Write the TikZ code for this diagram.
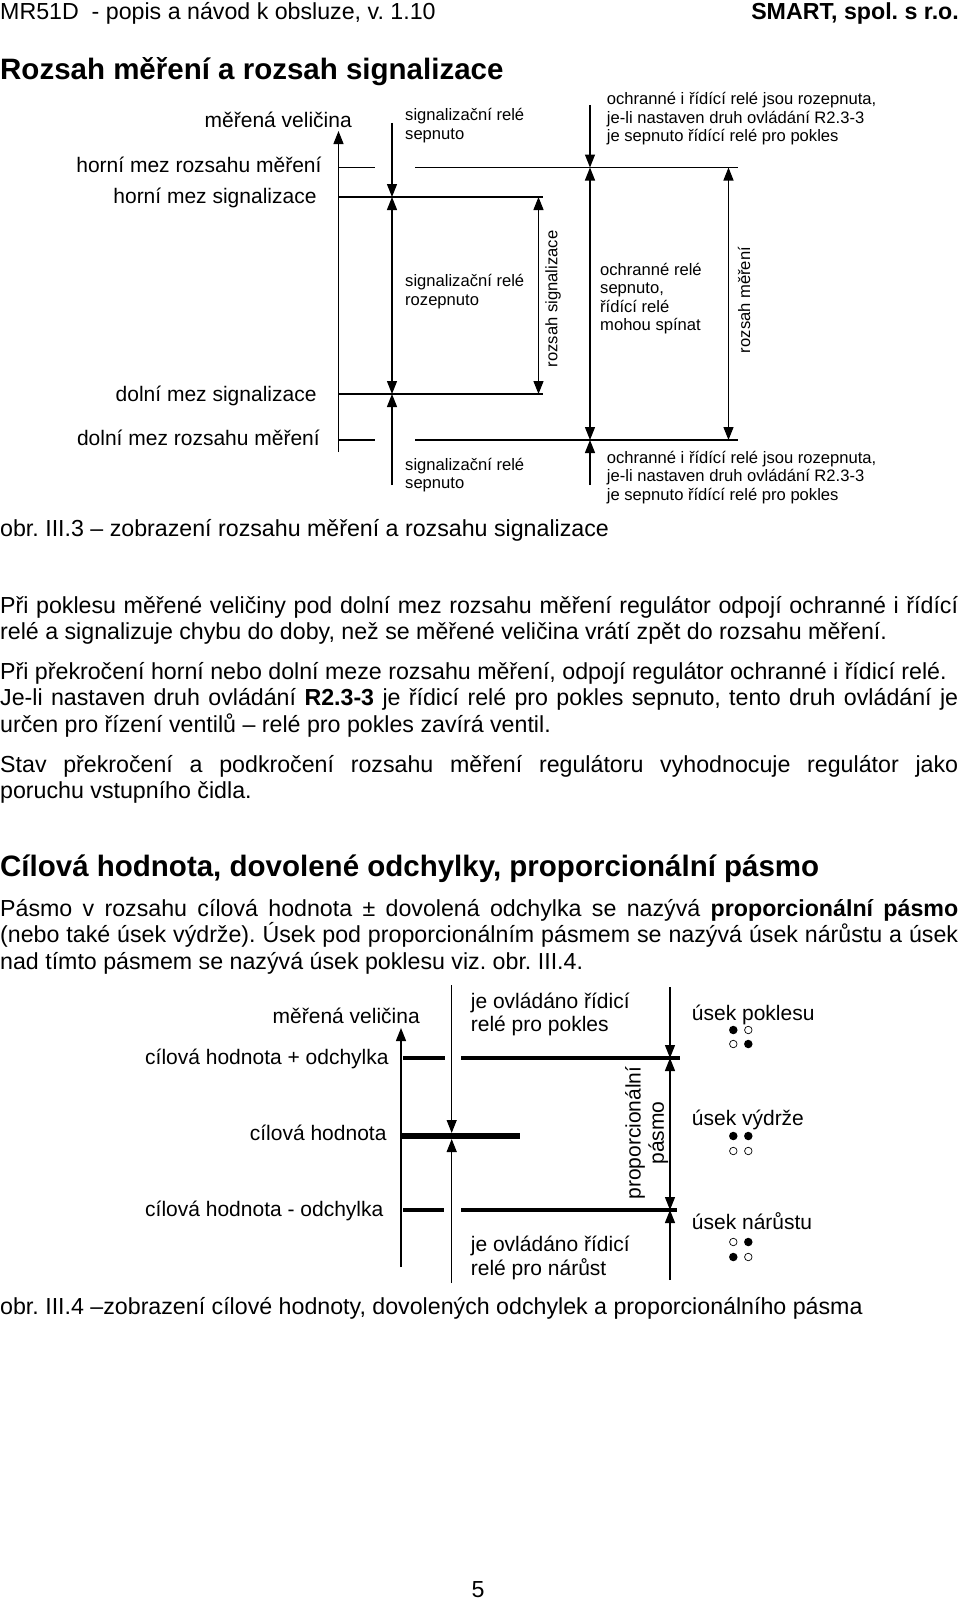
\documentclass[tikz,border=0pt]{standalone}
\usepackage{fontspec}
\setmainfont{Liberation Sans}
\usetikzlibrary{arrows.meta}
\frenchspacing
\tikzset{
  lbl/.style={inner sep=0pt, font=\fontsize{21}{23.4}\selectfont},
  sm/.style={inner sep=0pt, align=left, font=\fontsize{16.6}{18.5}\selectfont},
  body/.style={inner sep=0pt, align=left, font=\fontsize{23.2}{26.6}\selectfont},
  head/.style={inner sep=0pt, font=\fontsize{29.5}{34}\selectfont\bfseries},
  hdr/.style={inner sep=0pt, font=\fontsize{23.2}{26}\selectfont},
  lim/.style={line width=1.8pt},
  tipx/.style={line width=1.2pt, -{Triangle[length=13pt,width=10pt]}},
  dtip/.style={line width=1.2pt, {Triangle[length=13pt,width=10pt]}-{Triangle[length=13pt,width=10pt]}},
  thk/.style={line width=3.3pt},
  thkk/.style={line width=6pt},
  dotf/.style={circle, fill=black, inner sep=0pt, minimum size=8.5pt},
  doto/.style={circle, draw=black, line width=0.7pt, inner sep=0pt, minimum size=7.5pt},
}
\begin{document}
\frenchspacing
\begin{tikzpicture}[x=1pt,y=-1pt]
\useasboundingbox (0,0) rectangle (960,1600);

% header
\node[hdr, anchor=base west] (hdrL) at (0,20) {MR51D \ - popis a návod k obsluze, v. 1.10};
\node[hdr, anchor=base east, font=\fontsize{23.2}{26}\selectfont\bfseries] (hdrR) at (959,20) {SMART, spol. s r.o.};
\node[head, anchor=base west] (h1) at (0,80) {Rozsah měření a rozsah signalizace};

% ---------- diagram 1 ----------
\coordinate (axB) at (338.5,452);
\coordinate (axT) at (338.5,131);
\draw[tipx] (axB) -- (axT);

\coordinate (hmrA) at (339,167.5); \coordinate (hmrB) at (375,167.5);
\coordinate (hmrC) at (415,167.5); \coordinate (hmrD) at (738,167.5);
\coordinate (hmsA) at (339,197);   \coordinate (hmsB) at (543,197);
\coordinate (dmsA) at (339,394);   \coordinate (dmsB) at (543,394);
\coordinate (dmrA) at (339,440);   \coordinate (dmrB) at (375,440);
\coordinate (dmrC) at (415,440);   \coordinate (dmrD) at (738,440);
\draw[lim] (hmrA) -- (hmrB) (hmrC) -- (hmrD);
\draw[lim] (hmsA) -- (hmsB);
\draw[lim] (dmsA) -- (dmsB);
\draw[lim] (dmrA) -- (dmrB) (dmrC) -- (dmrD);

\coordinate (a1) at (392,123);
\coordinate (a2) at (392,197);
\coordinate (a3) at (392,394);
\coordinate (a4) at (392,485);
\draw[tipx] (a1) -- (a2);
\draw[dtip] (a2) -- (a3);
\draw[tipx] (a4) -- (a3);

\coordinate (b1) at (538.5,197);
\coordinate (b2) at (538.5,394);
\draw[dtip] (b1) -- (b2);

\coordinate (c1) at (590,105);
\coordinate (c2) at (590,167.5);
\coordinate (c3) at (590,440);
\coordinate (c4) at (590,485);
\draw[tipx] (c1) -- (c2);
\draw[dtip] (c2) -- (c3);
\draw[tipx] (c4) -- (c3);

\coordinate (d1) at (728.5,167.5);
\coordinate (d2) at (728.5,440);
\draw[dtip] (d1) -- (d2);

\node[lbl, anchor=base east] (mv1) at (352,128) {měřená veličina};
\node[lbl, anchor=base east] (lhmr) at (321.7,172.7) {horní mez rozsahu měření};
\node[lbl, anchor=base east] (lhms) at (316.7,203.3) {horní mez signalizace};
\node[lbl, anchor=base east] (ldms) at (316.7,401.7) {dolní mez signalizace};
\node[lbl, anchor=base east] (ldmr) at (320,445.7) {dolní mez rozsahu měření};

% multi-line nodes: base anchor = baseline of the last line
\node[sm, anchor=base west] (s1) at (405,139.2) {signalizační relé\\sepnuto};
\node[sm, anchor=base west] (s2) at (405,305.2) {signalizační relé\\rozepnuto};
\node[sm, anchor=base west] (s3) at (405,488.5) {signalizační relé\\sepnuto};
\node[sm, anchor=base west] (o1) at (606.7,142) {ochranné i řídící relé jsou rozepnuta,\\je-li nastaven druh ovládání R2.3-3\\je sepnuto řídící relé pro pokles};
\node[sm, anchor=base west] (o2) at (600,330.5) {ochranné relé\\sepnuto,\\řídící relé\\mohou spínat};
\node[sm, anchor=base west] (o3) at (606.7,500.3) {ochranné i řídící relé jsou rozepnuta,\\je-li nastaven druh ovládání R2.3-3\\je sepnuto řídící relé pro pokles};
\node[sm, rotate=90] (rs) at (553,299) {rozsah signalizace};
\node[sm, rotate=90] (rm) at (744,300) {rozsah měření};

\node[body, anchor=base west] (cap1) at (0,536) {obr. III.3 – zobrazení rozsahu měření a rozsahu signalizace};

% ---------- text ----------
\node[body, anchor=base west] (p1) at (0,639.6) {\makebox[958pt][s]{Při poklesu měřené veličiny pod dolní mez rozsahu měření regulátor odpojí ochranné i řídící}\\relé a signalizuje chybu do doby, než se měřené veličina vrátí zpět do rozsahu měření.};
\node[body, anchor=base west] (p2) at (0,732.2) {Při překročení horní nebo dolní meze rozsahu měření, odpojí regulátor ochranné i řídicí relé.\\\makebox[958pt][s]{Je-li nastaven druh ovládání \textbf{R2.3-3} je řídicí relé pro pokles sepnuto, tento druh ovládání je}\\určen pro řízení ventilů – relé pro pokles zavírá ventil.};
\node[body, anchor=base west] (p3) at (0,798.6) {\makebox[958pt][s]{Stav překročení a podkročení rozsahu měření regulátoru vyhodnocuje regulátor jako}\\poruchu vstupního čidla.};
\node[head, anchor=base west] (h2) at (0,876) {Cílová hodnota, dovolené odchylky, proporcionální pásmo};
\node[body, anchor=base west] (p4) at (0,969.2) {\makebox[958pt][s]{Pásmo v rozsahu cílová hodnota ± dovolená odchylka se nazývá \textbf{proporcionální pásmo}}\\\makebox[958pt][s]{(nebo také úsek výdrže). Úsek pod proporcionálním pásmem se nazývá úsek nárůstu a úsek}\\nad tímto pásmem se nazývá úsek poklesu viz. obr. III.4.};

% ---------- diagram 2 ----------
\coordinate (ax2B) at (401,1267);
\coordinate (ax2T) at (401,1028);
\draw[tipx] (ax2B) -- (ax2T);

\coordinate (poA) at (403,1058); \coordinate (poB) at (445,1058);
\coordinate (poC) at (461,1058); \coordinate (poD) at (680,1058);
\coordinate (chA) at (401.5,1136); \coordinate (chB) at (520,1136);
\coordinate (moA) at (403,1210); \coordinate (moB) at (444,1210);
\coordinate (moC) at (461,1210); \coordinate (moD) at (677,1210);
\draw[thk] (poA) -- (poB) (poC) -- (poD);
\draw[thkk] (chA) -- (chB);
\draw[thk] (moA) -- (moB) (moC) -- (moD);

\coordinate (e1) at (451.7,985);
\coordinate (e2) at (451.7,1133);
\coordinate (e3) at (451.7,1139);
\coordinate (e4) at (451.7,1283);
\draw[tipx] (e1) -- (e2);
\draw[tipx] (e4) -- (e3);

\coordinate (f1) at (670,987);
\coordinate (f2) at (670,1058);
\coordinate (f3) at (670,1210);
\coordinate (f4) at (670,1280);
\draw[tipx] (f1) -- (f2);
\draw[dtip] (f2) -- (f3);
\draw[tipx] (f4) -- (f3);

\node[lbl, anchor=base east] (mv2) at (420,1023.3) {měřená veličina};
\node[lbl, anchor=base west] (lpo) at (145,1064) {cílová hodnota + odchylka};
\node[lbl, anchor=base east] (lch) at (386.7,1140) {cílová hodnota};
\node[lbl, anchor=base west] (lmo) at (145,1216) {cílová hodnota - odchylka};

\node[lbl, align=left, anchor=base west] (jp) at (470.7,1031.7) {je ovládáno řídicí\\relé pro pokles};
\node[lbl, align=left, anchor=base west] (jn) at (470.7,1275.1) {je ovládáno řídicí\\relé pro nárůst};
\node[lbl, align=center, rotate=90] (pp) at (646.7,1133) {proporcionální\\pásmo};

\node[lbl, anchor=base west] (up) at (691.7,1020) {úsek poklesu};
\node[lbl, anchor=base west] (uv) at (691.7,1125) {úsek výdrže};
\node[lbl, anchor=base west] (un) at (691.7,1229.3) {úsek nárůstu};

\node[dotf] (p11) at (733.3,1030) {};
\node[doto] (p12) at (748.3,1030) {};
\node[doto] (p21) at (733.3,1044) {};
\node[dotf] (p22) at (748.3,1044) {};
\node[dotf] (v11) at (733.3,1136) {};
\node[dotf] (v12) at (748.3,1136) {};
\node[doto] (v21) at (733.3,1151) {};
\node[doto] (v22) at (748.3,1151) {};
\node[doto] (n11) at (733.3,1242) {};
\node[dotf] (n12) at (748.3,1242) {};
\node[dotf] (n21) at (733.3,1257) {};
\node[doto] (n22) at (748.3,1257) {};

\node[body, anchor=base west] (cap2) at (0,1314) {obr. III.4 –zobrazení cílové hodnoty, dovolených odchylek a proporcionálního pásma};

\node[body, anchor=base] (pg) at (478,1597) {5};
\end{tikzpicture}
\end{document}
